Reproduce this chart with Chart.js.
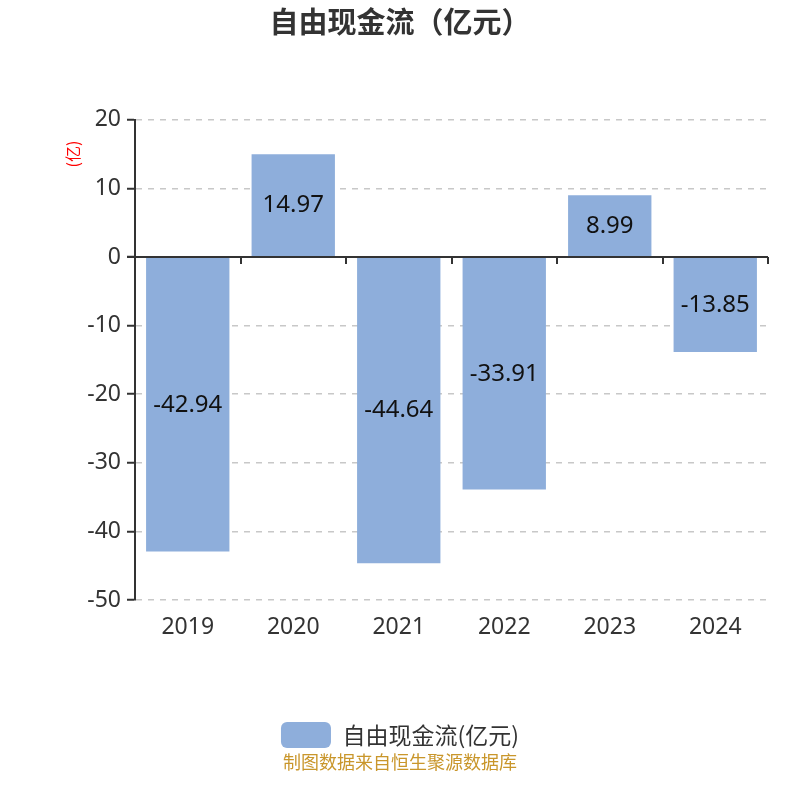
<!DOCTYPE html>
<html><head><meta charset="utf-8">
<script src="https://cdn.jsdelivr.net/npm/chart.js@4.4.0/dist/chart.umd.min.js"></script>
<style>html,body{margin:0;padding:0;background:#fff}#wrap{width:800px;height:800px}</style>
</head><body><div id="wrap"><canvas id="c" width="800" height="800"></canvas></div>
<script>
const categories = ['2019','2020','2021','2022','2023','2024'];
const values = [-42.94, 14.97, -44.64, -33.91, 8.99, -13.85];
const yTicks = [20, 10, 0, -10, -20, -30, -40, -50];
const seriesName = '自由现金流(亿元)';
const titleText = '自由现金流（亿元）';
const unitText = '(亿)';
const footerText = '制图数据来自恒生聚源数据库';
const FONT = '"Noto Sans", "Noto Sans CJK SC", sans-serif';
const CJK = '"Noto Sans CJK SC", "Noto Sans", sans-serif';

const extras = {
  id: 'extras',
  afterDatasetsDraw(chart) {
    const ctx = chart.ctx;
    const y = chart.scales.y;
    const area = chart.chartArea;
    const y0 = y.getPixelForValue(0);
    ctx.save();
    // zero axis line with ticks
    ctx.strokeStyle = '#333';
    ctx.lineWidth = 2;
    ctx.beginPath();
    ctx.moveTo(area.left - 8, y0);
    ctx.lineTo(area.right, y0);
    ctx.stroke();
    const n = categories.length;
    for (let i = 0; i <= n; i++) {
      const px = Math.round(area.left + (area.right - area.left) * i / n);
      ctx.beginPath();
      ctx.moveTo(px, y0);
      ctx.lineTo(px, y0 + 7);
      ctx.stroke();
    }
    // data labels
    const meta = chart.getDatasetMeta(0);
    ctx.fillStyle = '#111';
    ctx.font = '24px ' + FONT;
    ctx.textAlign = 'center';
    ctx.textBaseline = 'middle';
    meta.data.forEach((bar, i) => {
      const cy = (bar.y + bar.base) / 2;
      ctx.fillText(values[i].toFixed(2), bar.x, cy);
    });
    // unit label
    ctx.save();
    ctx.translate(73, 154);
    ctx.rotate(-Math.PI / 2);
    ctx.fillStyle = '#ff0000';
    ctx.font = '16px ' + CJK;
    ctx.fillText(unitText, 0, 0);
    ctx.restore();
    // footer
    ctx.fillStyle = '#c9962b';
    ctx.font = '18px ' + CJK;
    ctx.fillText(footerText, 400, 762);
    ctx.restore();
  }
};

new Chart(document.getElementById('c'), {
  type: 'bar',
  data: {
    labels: categories,
    datasets: [{
      label: seriesName,
      data: values,
      backgroundColor: '#8eaedb',
      borderWidth: 0,
      barPercentage: 0.79,
      categoryPercentage: 1.0
    }]
  },
  options: {
    responsive: false,
    animation: false,
    devicePixelRatio: 1,
    layout: { padding: { top: 0, bottom: 42, left: 0, right: 0 } },
    plugins: {
      title: {
        display: true,
        text: titleText,
        color: '#333',
        font: { family: CJK, size: 29, weight: 'bold' },
        padding: { top: 5, bottom: 80 }
      },
      legend: {
        position: 'bottom',
        labels: {
          boxWidth: 50, boxHeight: 26, padding: 10,
          color: '#333',
          font: { family: CJK, size: 23 },
          useBorderRadius: true, borderRadius: 6
        }
      },
      tooltip: { enabled: false }
    },
    scales: {
      x: {
        type: 'category',
        grid: { display: false, drawTicks: false },
        border: { display: false },
        ticks: { color: '#333', font: { family: FONT, size: 23 }, padding: 14 },
        afterFit(s) { s.height = 112; }
      },
      y: {
        min: -50, max: 20,
        afterBuildTicks(s) { s.ticks = yTicks.map(v => ({ value: v })); },
        grid: { color: '#c8c8c8', lineWidth: 1.5, tickColor: '#333', tickLength: 8, tickWidth: 2, drawTicks: true },
        border: { display: true, color: '#333', width: 2, dash: [6, 6] },
        ticks: { color: '#333', font: { family: FONT, size: 23 }, padding: 6 },
        afterFit(s) { s.width = 135; }
      },
      yRight: {
        position: 'right',
        display: true,
        min: -50, max: 20,
        grid: { display: false, drawTicks: false },
        border: { display: false },
        ticks: { display: false },
        afterFit(s) { s.width = 32; }
      }
    }
  },
  plugins: [extras]
});
</script></body></html>
